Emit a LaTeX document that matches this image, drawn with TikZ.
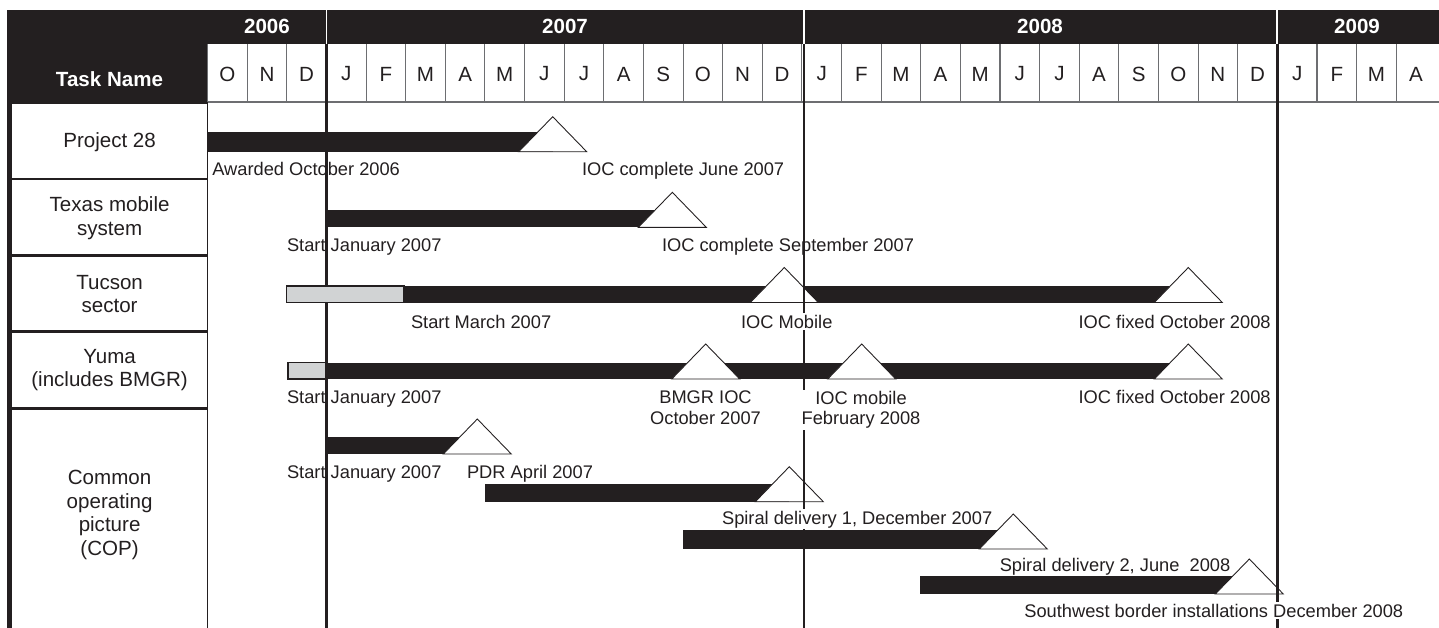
\documentclass[tikz,border=0pt]{standalone}
\usepackage{fontspec}
\setmainfont{Liberation Sans}
\definecolor{ink}{HTML}{231F20}
\definecolor{shade}{HTML}{D1D3D4}
\definecolor{rule}{HTML}{6D6E71}

\begin{document}
\begin{tikzpicture}[x=0.02cm, y=-0.02cm,
  lbl/.style={font=\fontsize{10.4}{11.6}\selectfont, inner sep=0pt, text=ink},
  cover/.style={fill=white, inner ysep=0.8pt},
  task/.style={font=\fontsize{11.7}{13.4}\selectfont, align=center, inner sep=0pt, text=ink},
  head/.style={font=\fontsize{11.7}{14}\selectfont\bfseries, inner sep=0pt, text=white},
  month/.style={font=\fontsize{11.7}{14}\selectfont, inner sep=0pt, text=ink},
  cell/.style={draw=ink, line width=0.7pt, fill=white},
  early/.style={draw=ink, line width=0.6pt, fill=shade},
  mile/.style={draw=ink, line width=0.5pt, fill=white},
  yearline/.style={draw=ink, line width=1.4pt}]
\useasboundingbox (0,0) rectangle (1439,627);

\fill[ink] (6.5,10) rectangle (1439,102);
\fill[white] (207.6,44) rectangle (1439,102);
\foreach \m [count=\i from 0] in {O,N,D,J,F,M,A,M,J,J,A,S,O,N,D,J,F,M,A,M,J,J,A,S,O,N,D,J,F,M,A} {
	\draw[rule, line width=0.6pt] (207.6+39.62*\i,44) -- (207.6+39.62*\i,102);
	\node[month] (m\i) at (227.4+39.62*\i,74) {\m};
}
\draw[rule, line width=0.8pt] (207.6,102) -- (1439,102);

\node[head] (taskname) at (109.5,79) {Task Name};
\node[head] (y2006) at (267,26.5) {2006};
\node[head] (y2007) at (565,26.5) {2007};
\node[head] (y2008) at (1040,26.5) {2008};
\node[head] (y2009) at (1357,26.5) {2009};
\foreach \x in {326.5,804,1277.3} {
	\draw[white, line width=1pt] (\x,10) -- (\x,44);
}

\fill[ink] (6.5,10) rectangle (11.7,640);
\draw[cell] (11.7,103) rectangle (207.6,178.6);
\draw[cell] (11.7,179.8) rectangle (207.6,254.8);
\draw[cell] (11.7,256) rectangle (207.6,331.1);
\draw[cell] (11.7,332.3) rectangle (207.6,408);
\draw[cell] (11.7,409.2) rectangle (207.6,640);

\node[task] (project) at (109.6,142.5) {Project 28};
\node[task] (texas) at (109.6,218) {Texas mobile\\system};
\node[task] (tucson) at (109.6,294) {Tucson\\sector};
\node[task] (yuma) at (109.6,370) {Yuma\\(includes BMGR)};
\node[task] (cop) at (109.6,515) {Common\\operating\\picture\\(COP)};

\foreach \a/\b/\t/\u in {208/552.7/131.7/151.7, 326.5/672.3/210/227.3, 404/1188.3/286/302.5,
	326.5/1188.3/362.7/379, 326.5/477.3/436.7/454, 485/789.3/484/501.7,
	683.3/1013.3/530/549, 920/1249.3/576/594} {
	\fill[ink] (\a,\t) rectangle (\b,\u);
}
\draw[early] (288,362.7) rectangle (326.5,379);

\foreach \x/\y in {552.7/151.7, 672.3/227.3, 784.3/302.5, 1188.3/302.5, 705.7/379, 861.7/379,
	1188.3/379, 477.3/454, 789.3/501.7, 1013.3/549, 1249.3/594} {
	\draw[mile] (\x-34,\y) -- (\x,\y-35) -- (\x+34,\y) -- cycle;
}

\foreach \x in {326.5,804,1277.3} {
	\draw[yearline] (\x,44) -- (\x,640);
}
\draw[early] (286.4,286) rectangle (404,302.5);

\node[lbl, anchor=base west] (awarded) at (212,175) {Awarded October 2006};
\node[lbl, anchor=base west] (iocjune) at (581.7,175) {IOC complete June 2007};
\node[lbl, anchor=base west] (texstart) at (286.7,251) {Start January 2007};
\node[lbl, anchor=base west] (iocsept) at (661.7,251) {IOC complete September 2007};
\node[lbl, anchor=base west] (tucstart) at (410.7,328) {Start March 2007};
\node[lbl, cover, anchor=base west] (tucmobile) at (740.7,328) {IOC Mobile};
\node[lbl, anchor=base west] (tucfixed) at (1078.3,328) {IOC fixed October 2008};
\node[lbl, anchor=base west] (yumstart) at (286.7,403) {Start January 2007};
\node[lbl, anchor=north, align=center] (bmgr) at (705.5,390.7) {BMGR IOC\\October 2007};
\node[lbl, cover, anchor=north, align=center] (yummobile) at (861,389.3) {IOC mobile\\February 2008};
\node[lbl, anchor=base west] (yumfixed) at (1078.3,403) {IOC fixed October 2008};
\node[lbl, anchor=base west] (copstart) at (286.7,478.3) {Start January 2007};
\node[lbl, anchor=base west] (pdr) at (466.7,478.3) {PDR April 2007};
\node[lbl, cover, anchor=base west] (spiral1) at (721.7,524) {Spiral delivery 1, December 2007};
\node[lbl, anchor=base east] (spiral2) at (1230.7,571) {Spiral delivery 2, June\ \ 2008};
\node[lbl, cover, anchor=base west] (southwest) at (1024,617) {Southwest border installations December 2008};
\end{tikzpicture}
\end{document}
